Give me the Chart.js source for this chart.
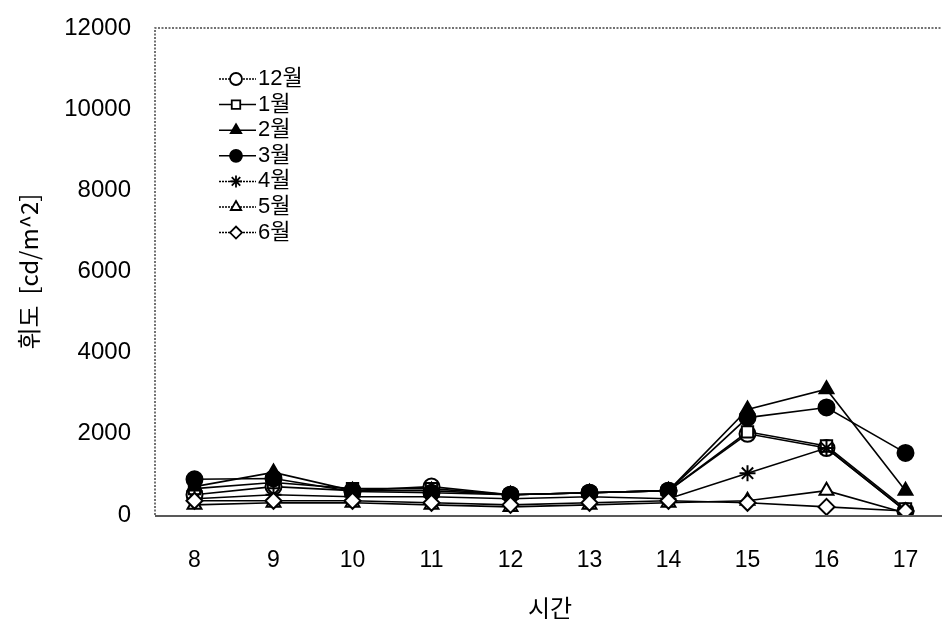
<!DOCTYPE html>
<html>
<head>
<meta charset="utf-8">
<script src="https://cdn.jsdelivr.net/npm/chart.js@4/dist/chart.umd.min.js"></script>
<style>
html,body{margin:0;padding:0;background:#fff;overflow:hidden;}
#wrap{width:955px;height:624px;position:relative;}
</style>
</head>
<body>
<div id="wrap"><canvas id="c" width="955" height="624"></canvas></div>
<script>
const hours = ['8','9','10','11','12','13','14','15','16','17'];
const seriesNames = ['12월','1월','2월','3월','4월','5월','6월'];
const dec = [500, 700, 600, 700, 500, 550, 600, 2000, 1650, 100];
const jan = [650, 800, 650, 650, 500, 550, 600, 2050, 1700, 150];
const feb = [700, 1050, 600, 600, 500, 550, 600, 2600, 3100, 600];
const mar = [880, 900, 580, 550, 500, 550, 600, 2400, 2650, 1530];
const apr = [400, 500, 450, 450, 400, 450, 400, 1030, 1650, 100];
const may = [250, 300, 300, 250, 200, 250, 300, 350, 600, 50];
const jun = [350, 350, 350, 300, 250, 300, 350, 300, 200, 100];
const yTicks = [0, 2000, 4000, 6000, 8000, 10000, 12000];

const styles = [
  {pointStyle:'circle', fill:false, dotted:true},
  {pointStyle:'rect', fill:false, dotted:false},
  {pointStyle:'triangle', fill:true, dotted:false},
  {pointStyle:'circle', fill:true, dotted:false},
  {pointStyle:'star', fill:false, dotted:true},
  {pointStyle:'triangle', fill:false, dotted:true},
  {pointStyle:'rectRot', fill:false, dotted:true}
];
const allData = [dec, jan, feb, mar, apr, may, jun];

const datasets = allData.map((d, i) => ({
  label: seriesNames[i],
  data: d,
  order: allData.length - i,
  borderColor: '#000',
  borderWidth: 1.6,
  backgroundColor: styles[i].fill ? '#000' : '#fff',
  pointStyle: styles[i].pointStyle,
  pointRadius: 8,
  pointBorderWidth: 2,
  pointBorderColor: '#000',
  pointBackgroundColor: styles[i].fill ? '#000' : '#fff',
  tension: 0,
  fill: false
}));

const framePlugin = {
  id: 'frame',
  beforeDatasetsDraw(chart) {
    const {ctx, chartArea: a} = chart;
    ctx.save();
    ctx.strokeStyle = '#444';
    ctx.lineWidth = 1.5;
    ctx.setLineDash([2, 1.5]);
    ctx.beginPath();
    ctx.moveTo(a.left, a.bottom);
    ctx.lineTo(a.left, a.top);
    ctx.lineTo(a.right, a.top);
    ctx.stroke();
    ctx.setLineDash([]);
    ctx.strokeStyle = '#222';
    ctx.beginPath();
    ctx.moveTo(a.left, a.bottom + 1);
    ctx.lineTo(a.right, a.bottom + 1);
    ctx.stroke();
    ctx.restore();
  }
};

const legendPlugin = {
  id: 'customLegend',
  afterDraw(chart) {
    const ctx = chart.ctx;
    const x0 = 219, x1 = 256, mx = 236, tx = 258, y0 = 79, dy = 25.6;
    seriesNames.forEach((name, i) => {
      const ds = chart.data.datasets[i];
      const y = y0 + i * dy;
      ctx.save();
      ctx.strokeStyle = '#000';
      ctx.lineWidth = 1.5;
      ctx.setLineDash(styles[i].dotted ? [2, 1] : []);
      ctx.beginPath();
      ctx.moveTo(x0, y);
      ctx.lineTo(x1, y);
      ctx.stroke();
      ctx.setLineDash([]);
      ctx.fillStyle = ds.pointBackgroundColor;
      ctx.strokeStyle = '#000';
      ctx.lineWidth = 1.8;
      Chart.helpers.drawPoint(ctx, {pointStyle: ds.pointStyle, radius: 6, borderWidth: 1.8, rotation: 0}, mx, y);
      ctx.fillStyle = '#000';
      ctx.font = '22px "Liberation Sans", "Noto Sans CJK KR", sans-serif';
      ctx.textBaseline = 'middle';
      ctx.textAlign = 'left';
      ctx.fillText(name, tx, y);
      ctx.restore();
    });
  }
};

new Chart(document.getElementById('c'), {
  type: 'line',
  data: { labels: hours, datasets },
  options: {
    responsive: false,
    animation: false,
    layout: { padding: { top: 28, right: 0, left: 0, bottom: 0 } },
    plugins: { legend: { display: false }, tooltip: { enabled: false } },
    scales: {
      x: {
        type: 'category',
        offset: true,
        grid: { display: false, drawTicks: false },
        border: { display: false },
        ticks: { color: '#000', font: { family: '"Liberation Sans", Arial, sans-serif', size: 23 }, padding: 32, maxRotation: 0 },
        title: { display: true, text: '시간', color: '#000', font: { family: '"Noto Sans CJK KR", sans-serif', size: 24 }, padding: { top: 0, bottom: 2 } },
        afterFit(s) { s.height = 109; s.paddingLeft = 0; s.paddingRight = 0; }
      },
      y: {
        min: 0, max: 12000,
        afterBuildTicks(s) { s.ticks = yTicks.map(v => ({ value: v })); },
        grid: { display: false, drawTicks: false },
        border: { display: false },
        ticks: { color: '#000', font: { family: '"Liberation Sans", Arial, sans-serif', size: 24 }, padding: 24, callback: v => String(v) },
        title: { display: true, text: '휘도  [cd/m^2]', color: '#000', font: { family: '"Noto Sans CJK KR", sans-serif', size: 24 }, padding: { top: 14, bottom: 0 } },
        afterFit(s) { s.width = 155; s.paddingTop = 0; s.paddingBottom = 0; }
      }
    }
  },
  plugins: [framePlugin, legendPlugin]
});
</script>
</body>
</html>
